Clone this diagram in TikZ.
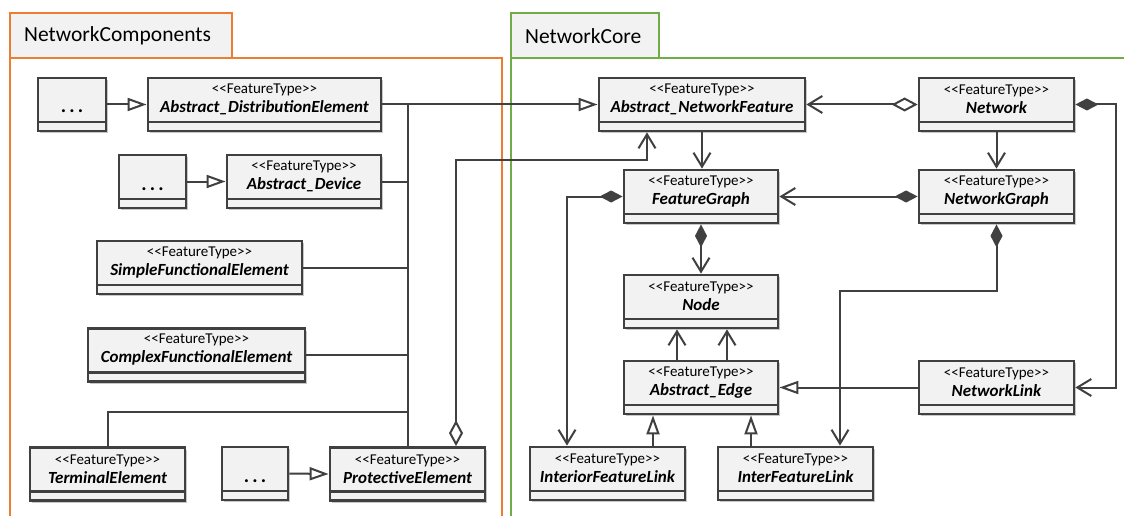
\documentclass[tikz,border=0pt]{standalone}
\usepackage{fontspec}
\setmainfont{Carlito}[Ligatures=TeXOff]
\usetikzlibrary{arrows.meta,shadows,calc}
\definecolor{lc}{HTML}{404040}
\definecolor{bfill}{HTML}{F2F2F2}
\definecolor{orng}{HTML}{ED7D31}
\definecolor{grn}{HTML}{70AD47}
\newcommand\stereo{{\fontsize{15}{19}\selectfont\mdseries\upshape <<FeatureType>>}}
\newcommand\dotsym{\textbf{.\hspace{3.2pt}.\hspace{3.2pt}.}}
\newcommand\umlclass[4]{%
  \node[umlbox, minimum width=#3] (#1) at (#2) {};
  \node[umltext] (#1-t) at ([yshift=5pt]#1.center) {\stereo\\#4};}
\newcommand\dotclass[3]{%
  \node[umlbox, minimum width=#3] (#1) at (#2) {};
  \node[dottext] (#1-t) at ([yshift=-8.5pt]#1.center) {\dotsym};}
\begin{document}
\begin{tikzpicture}[x=1pt,y=-1pt,
  umlbox/.style={draw=lc, line width=2.8pt, fill=bfill, inner sep=0pt,
    minimum height=53pt,
    drop shadow={shadow xshift=2pt,shadow yshift=-2pt,opacity=0.22,fill=black},
    path picture={\draw[lc, line width=2.4pt]
      ([yshift=9pt]path picture bounding box.south west) --
      ([yshift=9pt]path picture bounding box.south east);}},
  umltext/.style={align=center, inner sep=0pt, text=black,
    font=\fontsize{17}{19}\selectfont\bfseries\itshape},
  dottext/.style={anchor=base, inner sep=0pt, font=\fontsize{20}{20}\selectfont},
  pkgtab/.style={line width=2.5pt, fill=bfill},
  pkgbody/.style={line width=2.5pt, fill=white},
  pkgtext/.style={anchor=west, inner sep=0pt, font=\fontsize{21.5}{24}\selectfont},
  conn/.style={draw=lc, line width=2pt},
  gen/.style={conn, -{Triangle[open, length=19pt, width=13pt, line width=2pt]}},
  nav/.style={conn, -{Straight Barb[length=14pt, width=17pt, line width=2pt]}},
  aggnav/.style={conn, {Diamond[open, length=26pt, width=14pt, line width=2pt]}-{Straight Barb[length=14pt, width=17pt, line width=2pt]}},
  compnav/.style={conn, {Diamond[length=23pt, width=12pt]}-{Straight Barb[length=14pt, width=17pt, line width=2pt]}},
]
\useasboundingbox (0,0) rectangle (1124,516);
\begin{scope}
\clip (0,0) rectangle (1124,516);
% packages
\draw[pkgbody, draw=orng] (10,58) rectangle (502,530);
\draw[pkgtab, draw=orng] (10,13) rectangle (232,58);
\node[pkgtext] (pkgA) at (24,36) {NetworkComponents};
\draw[pkgbody, draw=grn] (511,58) rectangle (1140,530);
\draw[pkgtab, draw=grn] (511,13) rectangle (659,58);
\node[pkgtext] (pkgB) at (525,36) {NetworkCore};
\end{scope}

% classes left
\dotclass{d1}{72,104.5}{68pt}
\umlclass{ADE}{264.5,104.5}{233pt}{Abstract\_DistributionElement}
\dotclass{d2}{152.5,181.5}{67pt}
\umlclass{AD}{304,181.5}{154pt}{Abstract\_Device}
\umlclass{SFE}{199.5,267.5}{205pt}{SimpleFunctionalElement}
\umlclass{CFE}{196.5,355}{217pt}{ComplexFunctionalElement}
\umlclass{TE}{107.5,474}{155pt}{TerminalElement}
\dotclass{d3}{255,473.5}{66pt}
\umlclass{PE}{407.5,474}{155pt}{ProtectiveElement}
% classes right
\umlclass{ANF}{702,104.5}{206pt}{Abstract\_NetworkFeature}
\umlclass{NW}{996.5,104.5}{155pt}{Network}
\umlclass{FG}{701,196.5}{154pt}{FeatureGraph}
\umlclass{NG}{996.5,196.5}{155pt}{NetworkGraph}
\umlclass{ND}{701,301.5}{154pt}{Node}
\umlclass{AE}{701,387.5}{154pt}{Abstract\_Edge}
\umlclass{NL}{996.5,387.5}{155pt}{NetworkLink}
\umlclass{IFL}{607.5,473.5}{155pt}{InteriorFeatureLink}
\umlclass{XFL}{795.5,473.5}{155pt}{InterFeatureLink}

% generalizations left
\draw[gen] (d1.east) -- (ADE.west);
\draw[gen] (d2.east) -- (AD.west);
\draw[gen] (d3.east) -- (PE.west);
\draw[gen] (ADE.east) -- (ANF.west);
\coordinate (trTop) at (ADE.east -| PE.north);
\coordinate (trTE) at (PE.north |- 0,412);
\draw[conn] (trTop) -- (PE.north);
\draw[conn] (AD.east) -- (AD.east -| PE.north);
\draw[conn] (SFE.east) -- (SFE.east -| PE.north);
\draw[conn] (CFE.east) -- (CFE.east -| PE.north);
\draw[conn] (TE.north) |- (trTE);
% aggregation ProtectiveElement -> Abstract_NetworkFeature
\coordinate (agA) at ([xshift=48.5pt]PE.north);
\coordinate (agB) at ([xshift=-55pt]ANF.south);
\draw[aggnav] (agA) -- (agA |- 0,160) -| (agB);

% right side
\draw[aggnav] (NW.west) -- (ANF.east);
\draw[nav] (ANF.south) -- (ANF.south |- FG.north);
\draw[nav] (NW.south) -- (NG.north);
\draw[compnav] (NG.west) -- (FG.east);
\coordinate (nlR) at (1116,104.5);
\draw[compnav] (NW.east) -- (nlR) |- (NL.east);
\coordinate (iflT) at ([xshift=-40.5pt]IFL.north);
\draw[compnav] (FG.west) -| (iflT);
\draw[compnav] (FG.south) -- (ND.north);
\coordinate (e1) at ([xshift=-24pt]AE.north);
\coordinate (e2) at ([xshift=26pt]AE.north);
\draw[nav] (e1) -- (e1 |- ND.south);
\draw[nav] (e2) -- (e2 |- ND.south);
\draw[gen] (NL.west) -- (AE.east);
\coordinate (g1) at ([xshift=45.5pt]IFL.north);
\coordinate (g2) at ([xshift=-44.5pt]XFL.north);
\draw[gen] (g1) -- (g1 |- AE.south);
\draw[gen] (g2) -- (g2 |- AE.south);
\coordinate (xflT) at ([xshift=44.5pt]XFL.north);
\draw[compnav] (NG.south) -- (NG.south |- 0,291) -| (xflT);
\end{tikzpicture}
\end{document}
